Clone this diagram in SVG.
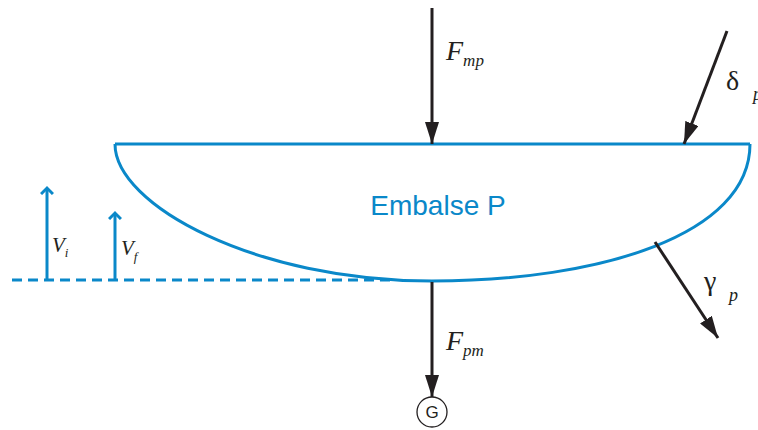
<svg xmlns="http://www.w3.org/2000/svg" width="758" height="430" viewBox="0 0 758 430">
<style>
.blk{stroke:#231f20;stroke-width:3;fill:none}
.blu{stroke:#0a88c9;stroke-width:3;fill:none}
.sym{font-family:"Liberation Serif",serif;font-style:italic;fill:#231f20}
.grk{font-family:"Liberation Serif",serif;fill:#231f20}
</style>
<defs>
<marker id="ah" viewBox="0 0 22 14" refX="22" refY="7" markerWidth="22" markerHeight="14" markerUnits="userSpaceOnUse" orient="auto">
<path d="M0,0 L22,7 L0,14 Z" fill="#231f20"/>
</marker>
<marker id="bh" viewBox="0 0 12 14" refX="7" refY="7" markerWidth="12" markerHeight="14" markerUnits="userSpaceOnUse" orient="auto">
<path d="M1,1 L7,7 L1,13" fill="none" stroke="#0a88c9" stroke-width="3"/>
</marker>
</defs>
<g id="embalse">
<path class="blu" d="M115,144 L750,144 M115,144 C115,205 255,281 432,281 C600,281 750,235 750,144"/>
<text x="438" y="215" text-anchor="middle" font-family="Liberation Sans,Arial,sans-serif" font-size="28" fill="#0a88c9">Embalse P</text>
</g>
<g id="datum">
<line class="blu" x1="12" y1="280" x2="390" y2="280" stroke-width="2" stroke-dasharray="10,6"/>
</g>
<g id="G">
<circle cx="432" cy="412" r="15" fill="#fff" stroke="#231f20" stroke-width="1.3"/>
<text x="432" y="418" text-anchor="middle" font-family="Liberation Sans,Arial,sans-serif" font-size="17" fill="#231f20">G</text>
</g>
<g id="connectors">
<line class="blk" x1="432" y1="8" x2="432" y2="144" marker-end="url(#ah)"/>
<line class="blk" x1="727" y1="31" x2="684" y2="144" marker-end="url(#ah)"/>
<line class="blk" x1="432" y1="282" x2="432" y2="397" marker-end="url(#ah)"/>
<line class="blk" x1="655" y1="242" x2="718" y2="338" marker-end="url(#ah)"/>
<line class="blu" x1="47" y1="280" x2="47" y2="188" marker-end="url(#bh)"/>
<line class="blu" x1="115" y1="280" x2="115" y2="213" marker-end="url(#bh)"/>
</g>
<g id="labels">
<text class="sym" x="446" y="60" font-size="28">F<tspan font-size="17" dy="6">mp</tspan></text>
<text class="grk" x="726" y="90" font-size="28">δ</text>
<text class="sym" x="753" y="100" font-size="18">p</text>
<text class="grk" x="704" y="290" font-size="28">γ</text>
<text class="sym" x="729" y="301" font-size="18">p</text>
<text class="sym" x="446" y="350" font-size="28">F<tspan font-size="17" dy="6">pm</tspan></text>
<text class="sym" x="52" y="252" font-size="21">V<tspan font-size="13" dy="5">i</tspan></text>
<text class="sym" x="121" y="255" font-size="21">V<tspan font-size="13" dy="6">f</tspan></text>
</g>
</svg>
